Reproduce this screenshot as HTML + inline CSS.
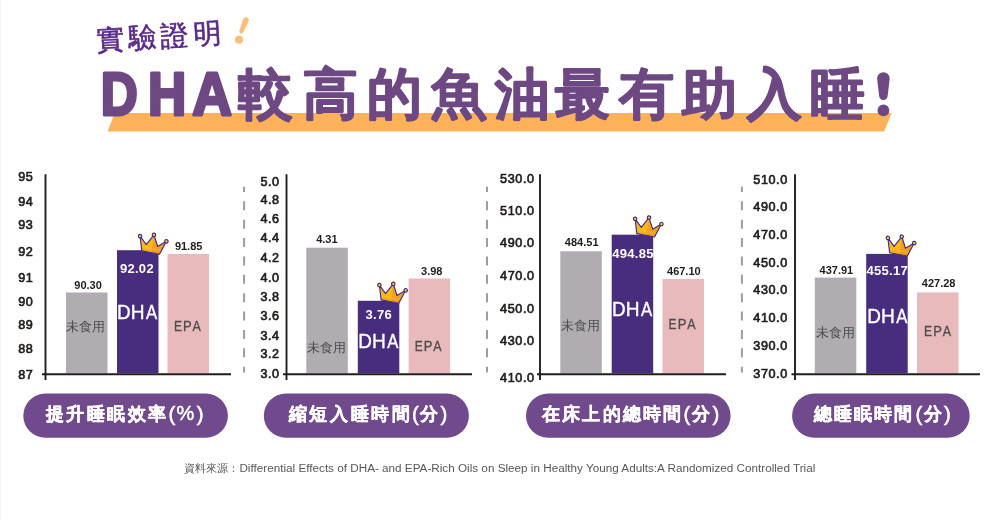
<!DOCTYPE html>
<html lang="zh-Hant"><head><meta charset="utf-8"><title>DHA</title>
<style>
html,body{margin:0;padding:0;background:#fff;}
body{width:1000px;height:520px;overflow:hidden;position:relative;font-family:"Liberation Sans",sans-serif;}
svg{position:absolute;left:0;top:0;display:block;will-change:transform;}
svg text{font-family:"Liberation Sans",sans-serif;}
</style></head><body>
<svg width="1000" height="520" viewBox="0 0 1000 520">
<defs>
<g id="crown">
 <path d="M0,0 L-4.4,-14.2 L3.2,-7 L9,-18 L14.8,-7.3 L22.4,-14 L18,0 Z" fill="#fcb814"/>
 <path d="M9,-18 L14.8,-7.3 L22.4,-14 L18,0 L9.8,0 Z" fill="#f5a01b"/>
 <path d="M-0.8,-3.6 L19.1,-3.6 L18,0 L0,0 Z" fill="#f9ad1c"/>
 <path d="M9.8,-3.6 L19.1,-3.6 L18,0 L9.8,0 Z" fill="#f49a1a"/>
 <path d="M-0.8,-3.6 L19.1,-3.6" stroke="#fdd060" stroke-width="0.6" opacity="0.6"/>
 <path d="M0,0 L-4.4,-14.2 L3.2,-7 L9,-18 L14.8,-7.3 L22.4,-14 L18,0 Z" fill="none" stroke="#3f2c8e" stroke-width="1.15" stroke-linejoin="round"/>
 <circle cx="-4.4" cy="-14.2" r="1.75" fill="#fdc62a" stroke="#3f2c8e" stroke-width="1.15"/>
 <circle cx="9" cy="-18" r="1.75" fill="#fdc62a" stroke="#3f2c8e" stroke-width="1.15"/>
 <circle cx="22.4" cy="-14" r="1.75" fill="#fdc62a" stroke="#3f2c8e" stroke-width="1.15"/>
</g>
</defs>
<rect x="0" y="0" width="1" height="520" fill="#f6f6f6"/>

<g id="title">
<path d="M114.6,113.1 L891.7,113.1 L884.1,131.5 L107.7,131.5 Z" fill="#fdb25a"/>
<g transform="rotate(-3.6 97 40)"><text x="96.3" y="50" font-size="28" font-weight="500" fill="#5a2a88" stroke="#5a2a88" stroke-width="0.6" stroke-linejoin="round" letter-spacing="4.3">實驗證明</text></g>
<path d="M243.2,18.95 A2.9,2.9 0 0 1 248.6,21.05 L243.55,32.1 A2.2,2.2 0 0 1 239.45,30.5 Z" fill="#fbbf7a"/>
<circle cx="239" cy="39.7" r="4" fill="#fbbf7a"/>
<text transform="translate(119.2,115.4) scale(0.84,1)" x="0" y="0" text-anchor="middle" font-size="61" font-weight="bold" fill="#6e4882" stroke="#6e4882" stroke-width="3.2" stroke-linejoin="round">D</text>
<text transform="translate(167.2,115.4) scale(0.87,1)" x="0" y="0" text-anchor="middle" font-size="61" font-weight="bold" fill="#6e4882" stroke="#6e4882" stroke-width="3.2" stroke-linejoin="round">H</text>
<text transform="translate(212.0,115.4) scale(0.9,1)" x="0" y="0" text-anchor="middle" font-size="61" font-weight="bold" fill="#6e4882" stroke="#6e4882" stroke-width="3.2" stroke-linejoin="round">A</text>
<text x="265.5" y="113" text-anchor="middle" font-size="54.5" font-weight="900" fill="#6e4882" stroke="#6e4882" stroke-width="1.5" stroke-linejoin="round">較</text>
<text x="330.6" y="113" text-anchor="middle" font-size="54.5" font-weight="900" fill="#6e4882" stroke="#6e4882" stroke-width="1.5" stroke-linejoin="round">高</text>
<text x="394.2" y="113" text-anchor="middle" font-size="54.5" font-weight="900" fill="#6e4882" stroke="#6e4882" stroke-width="1.5" stroke-linejoin="round">的</text>
<text x="458.6" y="113" text-anchor="middle" font-size="54.5" font-weight="900" fill="#6e4882" stroke="#6e4882" stroke-width="1.5" stroke-linejoin="round">魚</text>
<text x="522.9" y="113" text-anchor="middle" font-size="54.5" font-weight="900" fill="#6e4882" stroke="#6e4882" stroke-width="1.5" stroke-linejoin="round">油</text>
<text x="582.3" y="113" text-anchor="middle" font-size="54.5" font-weight="900" fill="#6e4882" stroke="#6e4882" stroke-width="1.5" stroke-linejoin="round">最</text>
<text x="646.2" y="113" text-anchor="middle" font-size="54.5" font-weight="900" fill="#6e4882" stroke="#6e4882" stroke-width="1.5" stroke-linejoin="round">有</text>
<text x="709.2" y="113" text-anchor="middle" font-size="54.5" font-weight="900" fill="#6e4882" stroke="#6e4882" stroke-width="1.5" stroke-linejoin="round">助</text>
<text x="774.0" y="113" text-anchor="middle" font-size="54.5" font-weight="900" fill="#6e4882" stroke="#6e4882" stroke-width="1.5" stroke-linejoin="round">入</text>
<text x="837.9" y="113" text-anchor="middle" font-size="54.5" font-weight="900" fill="#6e4882" stroke="#6e4882" stroke-width="1.5" stroke-linejoin="round">睡</text>
<path d="M877.1,78.5 A6.3,6.3 0 0 1 889.7,78.5 L887.7,95.6 A4.3,4.3 0 0 1 879.1,95.6 Z" fill="#6e4882"/>
<circle cx="883.4" cy="110.4" r="5.9" fill="#6e4882"/>
</g>
<line x1="244.1" y1="186.7" x2="244.1" y2="372.4" stroke="#9d9d9e" stroke-width="2" stroke-dasharray="9 9.38" stroke-dashoffset="3.78"/>
<line x1="487" y1="186.7" x2="487" y2="372.4" stroke="#9d9d9e" stroke-width="2" stroke-dasharray="9 9.38" stroke-dashoffset="3.78"/>
<line x1="741.9" y1="186.7" x2="741.9" y2="372.4" stroke="#9d9d9e" stroke-width="2" stroke-dasharray="9 9.38" stroke-dashoffset="3.78"/>
<rect x="66" y="292.5" width="41.5" height="80.8" fill="#b0acb2"/>
<rect x="117" y="250.2" width="41.5" height="123.1" fill="#482d7f"/>
<rect x="167.5" y="254" width="41.5" height="119.3" fill="#e9babb"/>
<line x1="45.5" y1="174.2" x2="45.5" y2="380" stroke="#221c1c" stroke-width="1.9"/>
<line x1="42" y1="374.2" x2="231" y2="374.2" stroke="#221c1c" stroke-width="2"/>
<text x="32.8" y="181.2" text-anchor="end" font-size="12.6" fill="#221c1c" stroke="#221c1c" stroke-width="0.65" letter-spacing="0.6" dx="0.6">95</text>
<text x="32.8" y="205.7" text-anchor="end" font-size="12.6" fill="#221c1c" stroke="#221c1c" stroke-width="0.65" letter-spacing="0.6" dx="0.6">94</text>
<text x="32.8" y="229.0" text-anchor="end" font-size="12.6" fill="#221c1c" stroke="#221c1c" stroke-width="0.65" letter-spacing="0.6" dx="0.6">93</text>
<text x="32.8" y="255.8" text-anchor="end" font-size="12.6" fill="#221c1c" stroke="#221c1c" stroke-width="0.65" letter-spacing="0.6" dx="0.6">92</text>
<text x="32.8" y="281.5" text-anchor="end" font-size="12.6" fill="#221c1c" stroke="#221c1c" stroke-width="0.65" letter-spacing="0.6" dx="0.6">91</text>
<text x="32.8" y="305.5" text-anchor="end" font-size="12.6" fill="#221c1c" stroke="#221c1c" stroke-width="0.65" letter-spacing="0.6" dx="0.6">90</text>
<text x="32.8" y="329.4" text-anchor="end" font-size="12.6" fill="#221c1c" stroke="#221c1c" stroke-width="0.65" letter-spacing="0.6" dx="0.6">89</text>
<text x="32.8" y="353.4" text-anchor="end" font-size="12.6" fill="#221c1c" stroke="#221c1c" stroke-width="0.65" letter-spacing="0.6" dx="0.6">88</text>
<text x="32.8" y="379.0" text-anchor="end" font-size="12.6" fill="#221c1c" stroke="#221c1c" stroke-width="0.65" letter-spacing="0.6" dx="0.6">87</text>
<text x="88.05" y="289.00" text-anchor="middle" font-size="11" font-weight="bold" fill="#221c1c">90.30</text>
<text x="188.65" y="250.25" text-anchor="middle" font-size="11" font-weight="bold" fill="#221c1c">91.85</text>
<text x="136.90" y="273.45" text-anchor="middle" font-size="13" font-weight="bold" fill="#fff" letter-spacing="0.3">92.02</text>
<text transform="translate(123.85,319.40) scale(0.97,1)" text-anchor="middle" font-size="19.5" fill="#fff" stroke="#fff" stroke-width="0.35">D</text>
<text transform="translate(137.75,319.40) scale(0.98,1)" text-anchor="middle" font-size="19.5" fill="#fff" stroke="#fff" stroke-width="0.35">H</text>
<text transform="translate(151.65,319.40) scale(0.86,1)" text-anchor="middle" font-size="19.5" fill="#fff" stroke="#fff" stroke-width="0.35">A</text>
<text transform="translate(177.90,330.60) scale(0.86,1)" text-anchor="middle" font-size="14" fill="#4d4d4d" stroke="#4d4d4d" stroke-width="0.3">E</text>
<text transform="translate(187.40,330.60) scale(0.93,1)" text-anchor="middle" font-size="14" fill="#4d4d4d" stroke="#4d4d4d" stroke-width="0.3">P</text>
<text transform="translate(196.65,330.60) scale(0.89,1)" text-anchor="middle" font-size="14" fill="#4d4d4d" stroke="#4d4d4d" stroke-width="0.3">A</text>
<text x="85.65" y="331.45" text-anchor="middle" font-size="13.4" fill="#4d4d4d">未食用</text>
<use href="#crown" transform="translate(141.8,250.9) rotate(10.7)"/>
<rect x="306.3" y="247.7" width="41.5" height="125.6" fill="#b0acb2"/>
<rect x="357.8" y="300.8" width="41.5" height="72.5" fill="#482d7f"/>
<rect x="408.6" y="278.5" width="41.5" height="94.8" fill="#e9babb"/>
<line x1="286.5" y1="174.2" x2="286.5" y2="380" stroke="#221c1c" stroke-width="1.9"/>
<line x1="283" y1="374.2" x2="472" y2="374.2" stroke="#221c1c" stroke-width="2"/>
<text x="279.1" y="186.0" text-anchor="end" font-size="12.6" fill="#221c1c" stroke="#221c1c" stroke-width="0.65" letter-spacing="0.6" dx="0.6">5.0</text>
<text x="279.1" y="204.4" text-anchor="end" font-size="12.6" fill="#221c1c" stroke="#221c1c" stroke-width="0.65" letter-spacing="0.6" dx="0.6">4.8</text>
<text x="279.1" y="223.4" text-anchor="end" font-size="12.6" fill="#221c1c" stroke="#221c1c" stroke-width="0.65" letter-spacing="0.6" dx="0.6">4.6</text>
<text x="279.1" y="242.4" text-anchor="end" font-size="12.6" fill="#221c1c" stroke="#221c1c" stroke-width="0.65" letter-spacing="0.6" dx="0.6">4.4</text>
<text x="279.1" y="261.6" text-anchor="end" font-size="12.6" fill="#221c1c" stroke="#221c1c" stroke-width="0.65" letter-spacing="0.6" dx="0.6">4.2</text>
<text x="279.1" y="281.5" text-anchor="end" font-size="12.6" fill="#221c1c" stroke="#221c1c" stroke-width="0.65" letter-spacing="0.6" dx="0.6">4.0</text>
<text x="279.1" y="301.0" text-anchor="end" font-size="12.6" fill="#221c1c" stroke="#221c1c" stroke-width="0.65" letter-spacing="0.6" dx="0.6">3.8</text>
<text x="279.1" y="319.8" text-anchor="end" font-size="12.6" fill="#221c1c" stroke="#221c1c" stroke-width="0.65" letter-spacing="0.6" dx="0.6">3.6</text>
<text x="279.1" y="339.5" text-anchor="end" font-size="12.6" fill="#221c1c" stroke="#221c1c" stroke-width="0.65" letter-spacing="0.6" dx="0.6">3.4</text>
<text x="279.1" y="358.2" text-anchor="end" font-size="12.6" fill="#221c1c" stroke="#221c1c" stroke-width="0.65" letter-spacing="0.6" dx="0.6">3.2</text>
<text x="279.1" y="377.8" text-anchor="end" font-size="12.6" fill="#221c1c" stroke="#221c1c" stroke-width="0.65" letter-spacing="0.6" dx="0.6">3.0</text>
<text x="326.85" y="243.00" text-anchor="middle" font-size="11" font-weight="bold" fill="#221c1c">4.31</text>
<text x="431.75" y="274.50" text-anchor="middle" font-size="11" font-weight="bold" fill="#221c1c">3.98</text>
<text x="378.70" y="319.45" text-anchor="middle" font-size="13" font-weight="bold" fill="#fff" letter-spacing="0.3">3.76</text>
<text transform="translate(364.95,347.50) scale(0.97,1)" text-anchor="middle" font-size="19.5" fill="#fff" stroke="#fff" stroke-width="0.35">D</text>
<text transform="translate(378.85,347.50) scale(0.98,1)" text-anchor="middle" font-size="19.5" fill="#fff" stroke="#fff" stroke-width="0.35">H</text>
<text transform="translate(392.75,347.50) scale(0.86,1)" text-anchor="middle" font-size="19.5" fill="#fff" stroke="#fff" stroke-width="0.35">A</text>
<text transform="translate(418.65,351.45) scale(0.86,1)" text-anchor="middle" font-size="14" fill="#4d4d4d" stroke="#4d4d4d" stroke-width="0.3">E</text>
<text transform="translate(428.15,351.45) scale(0.93,1)" text-anchor="middle" font-size="14" fill="#4d4d4d" stroke="#4d4d4d" stroke-width="0.3">P</text>
<text transform="translate(437.40,351.45) scale(0.89,1)" text-anchor="middle" font-size="14" fill="#4d4d4d" stroke="#4d4d4d" stroke-width="0.3">A</text>
<text x="326.60" y="352.25" text-anchor="middle" font-size="13.4" fill="#4d4d4d">未食用</text>
<use href="#crown" transform="translate(381.1,299.9) rotate(10.7)"/>
<rect x="560.3" y="251.3" width="41.5" height="122.0" fill="#b0acb2"/>
<rect x="611.7" y="234.7" width="41.5" height="138.6" fill="#482d7f"/>
<rect x="662.5" y="279" width="41.5" height="94.3" fill="#e9babb"/>
<line x1="540" y1="174.2" x2="540" y2="380" stroke="#221c1c" stroke-width="1.9"/>
<line x1="537" y1="374.2" x2="726" y2="374.2" stroke="#221c1c" stroke-width="2"/>
<text x="534" y="183.1" text-anchor="end" font-size="12.6" fill="#221c1c" stroke="#221c1c" stroke-width="0.65" letter-spacing="0.6" dx="0.6">530.0</text>
<text x="534" y="215.0" text-anchor="end" font-size="12.6" fill="#221c1c" stroke="#221c1c" stroke-width="0.65" letter-spacing="0.6" dx="0.6">510.0</text>
<text x="534" y="246.8" text-anchor="end" font-size="12.6" fill="#221c1c" stroke="#221c1c" stroke-width="0.65" letter-spacing="0.6" dx="0.6">490.0</text>
<text x="534" y="279.9" text-anchor="end" font-size="12.6" fill="#221c1c" stroke="#221c1c" stroke-width="0.65" letter-spacing="0.6" dx="0.6">470.0</text>
<text x="534" y="312.6" text-anchor="end" font-size="12.6" fill="#221c1c" stroke="#221c1c" stroke-width="0.65" letter-spacing="0.6" dx="0.6">450.0</text>
<text x="534" y="345.4" text-anchor="end" font-size="12.6" fill="#221c1c" stroke="#221c1c" stroke-width="0.65" letter-spacing="0.6" dx="0.6">430.0</text>
<text x="534" y="382.0" text-anchor="end" font-size="12.6" fill="#221c1c" stroke="#221c1c" stroke-width="0.65" letter-spacing="0.6" dx="0.6">410.0</text>
<text x="581.70" y="246.35" text-anchor="middle" font-size="11" font-weight="bold" fill="#221c1c">484.51</text>
<text x="683.85" y="274.60" text-anchor="middle" font-size="11" font-weight="bold" fill="#221c1c">467.10</text>
<text x="633.00" y="257.65" text-anchor="middle" font-size="13" font-weight="bold" fill="#fff" letter-spacing="0.3">494.85</text>
<text transform="translate(618.70,316.05) scale(0.97,1)" text-anchor="middle" font-size="19.5" fill="#fff" stroke="#fff" stroke-width="0.35">D</text>
<text transform="translate(632.60,316.05) scale(0.98,1)" text-anchor="middle" font-size="19.5" fill="#fff" stroke="#fff" stroke-width="0.35">H</text>
<text transform="translate(646.50,316.05) scale(0.86,1)" text-anchor="middle" font-size="19.5" fill="#fff" stroke="#fff" stroke-width="0.35">A</text>
<text transform="translate(672.55,329.15) scale(0.86,1)" text-anchor="middle" font-size="14" fill="#4d4d4d" stroke="#4d4d4d" stroke-width="0.3">E</text>
<text transform="translate(682.05,329.15) scale(0.93,1)" text-anchor="middle" font-size="14" fill="#4d4d4d" stroke="#4d4d4d" stroke-width="0.3">P</text>
<text transform="translate(691.30,329.15) scale(0.89,1)" text-anchor="middle" font-size="14" fill="#4d4d4d" stroke="#4d4d4d" stroke-width="0.3">A</text>
<text x="580.30" y="330.00" text-anchor="middle" font-size="13.4" fill="#4d4d4d">未食用</text>
<use href="#crown" transform="translate(636.8,233.6) rotate(10.7)"/>
<rect x="814.8" y="277.6" width="41.5" height="95.7" fill="#b0acb2"/>
<rect x="866.2" y="253.9" width="41.5" height="119.4" fill="#482d7f"/>
<rect x="917" y="292.4" width="41.5" height="80.9" fill="#e9babb"/>
<line x1="795" y1="174.2" x2="795" y2="380" stroke="#221c1c" stroke-width="1.9"/>
<line x1="791.5" y1="374.2" x2="980" y2="374.2" stroke="#221c1c" stroke-width="2"/>
<text x="787.2" y="183.5" text-anchor="end" font-size="12.6" fill="#221c1c" stroke="#221c1c" stroke-width="0.65" letter-spacing="0.6" dx="0.6">510.0</text>
<text x="787.2" y="211.1" text-anchor="end" font-size="12.6" fill="#221c1c" stroke="#221c1c" stroke-width="0.65" letter-spacing="0.6" dx="0.6">490.0</text>
<text x="787.2" y="238.9" text-anchor="end" font-size="12.6" fill="#221c1c" stroke="#221c1c" stroke-width="0.65" letter-spacing="0.6" dx="0.6">470.0</text>
<text x="787.2" y="266.6" text-anchor="end" font-size="12.6" fill="#221c1c" stroke="#221c1c" stroke-width="0.65" letter-spacing="0.6" dx="0.6">450.0</text>
<text x="787.2" y="294.4" text-anchor="end" font-size="12.6" fill="#221c1c" stroke="#221c1c" stroke-width="0.65" letter-spacing="0.6" dx="0.6">430.0</text>
<text x="787.2" y="322.1" text-anchor="end" font-size="12.6" fill="#221c1c" stroke="#221c1c" stroke-width="0.65" letter-spacing="0.6" dx="0.6">410.0</text>
<text x="787.2" y="349.7" text-anchor="end" font-size="12.6" fill="#221c1c" stroke="#221c1c" stroke-width="0.65" letter-spacing="0.6" dx="0.6">390.0</text>
<text x="787.2" y="377.6" text-anchor="end" font-size="12.6" fill="#221c1c" stroke="#221c1c" stroke-width="0.65" letter-spacing="0.6" dx="0.6">370.0</text>
<text x="836.40" y="274.40" text-anchor="middle" font-size="11" font-weight="bold" fill="#221c1c">437.91</text>
<text x="938.65" y="287.20" text-anchor="middle" font-size="11" font-weight="bold" fill="#221c1c">427.28</text>
<text x="887.25" y="275.25" text-anchor="middle" font-size="13" font-weight="bold" fill="#fff" letter-spacing="0.3">455.17</text>
<text transform="translate(874.05,323.15) scale(0.97,1)" text-anchor="middle" font-size="19.5" fill="#fff" stroke="#fff" stroke-width="0.35">D</text>
<text transform="translate(887.95,323.15) scale(0.98,1)" text-anchor="middle" font-size="19.5" fill="#fff" stroke="#fff" stroke-width="0.35">H</text>
<text transform="translate(901.85,323.15) scale(0.86,1)" text-anchor="middle" font-size="19.5" fill="#fff" stroke="#fff" stroke-width="0.35">A</text>
<text transform="translate(928.05,336.40) scale(0.86,1)" text-anchor="middle" font-size="14" fill="#4d4d4d" stroke="#4d4d4d" stroke-width="0.3">E</text>
<text transform="translate(937.55,336.40) scale(0.93,1)" text-anchor="middle" font-size="14" fill="#4d4d4d" stroke="#4d4d4d" stroke-width="0.3">P</text>
<text transform="translate(946.80,336.40) scale(0.89,1)" text-anchor="middle" font-size="14" fill="#4d4d4d" stroke="#4d4d4d" stroke-width="0.3">A</text>
<text x="835.70" y="337.15" text-anchor="middle" font-size="13.4" fill="#4d4d4d">未食用</text>
<use href="#crown" transform="translate(889.6,252.7) rotate(10.7)"/>
<rect x="23.3" y="393.6" width="204.6" height="44.2" rx="22.1" fill="#704a8c"/>
<text x="46.1" y="419.8" font-size="17.6" font-weight="bold" fill="#fff" stroke="#fff" stroke-width="0.45" stroke-linejoin="round" letter-spacing="2.4">提升睡眠效率</text>
<text x="171.8" y="421.2" text-anchor="middle" font-size="20.5" fill="#fff" stroke="#fff" stroke-width="0.55">(</text>
<text x="185.4" y="420.2" text-anchor="middle" font-size="20" fill="#fff" stroke="#fff" stroke-width="0.5">%</text>
<text x="200.2" y="421.2" text-anchor="middle" font-size="20.5" fill="#fff" stroke="#fff" stroke-width="0.55">)</text>
<rect x="263.8" y="393.6" width="205.1" height="44.2" rx="22.1" fill="#704a8c"/>
<text x="288.9" y="419.8" font-size="17.6" font-weight="bold" fill="#fff" stroke="#fff" stroke-width="0.45" stroke-linejoin="round" letter-spacing="2.6">縮短入睡時間</text>
<text x="415.4" y="421.2" text-anchor="middle" font-size="20.5" fill="#fff" stroke="#fff" stroke-width="0.55">(</text>
<text x="429.2" y="419.8" text-anchor="middle" font-size="17.6" font-weight="bold" fill="#fff" stroke="#fff" stroke-width="0.45" stroke-linejoin="round">分</text>
<text x="444.0" y="421.2" text-anchor="middle" font-size="20.5" fill="#fff" stroke="#fff" stroke-width="0.55">)</text>
<rect x="526" y="393.6" width="204.6" height="44.2" rx="22.1" fill="#704a8c"/>
<text x="542.4" y="419.8" font-size="17.6" font-weight="bold" fill="#fff" stroke="#fff" stroke-width="0.45" stroke-linejoin="round" letter-spacing="2.05">在床上的總時間</text>
<text x="686.8" y="421.2" text-anchor="middle" font-size="20.5" fill="#fff" stroke="#fff" stroke-width="0.55">(</text>
<text x="700.8" y="419.8" text-anchor="middle" font-size="17.6" font-weight="bold" fill="#fff" stroke="#fff" stroke-width="0.45" stroke-linejoin="round">分</text>
<text x="715.8" y="421.2" text-anchor="middle" font-size="20.5" fill="#fff" stroke="#fff" stroke-width="0.55">)</text>
<rect x="792.1" y="393.6" width="177.6" height="44.2" rx="22.1" fill="#704a8c"/>
<text x="814.4" y="419.8" font-size="17.6" font-weight="bold" fill="#fff" stroke="#fff" stroke-width="0.45" stroke-linejoin="round" letter-spacing="1.95">總睡眠時間</text>
<text x="919.0" y="421.2" text-anchor="middle" font-size="20.5" fill="#fff" stroke="#fff" stroke-width="0.55">(</text>
<text x="933.2" y="419.8" text-anchor="middle" font-size="17.6" font-weight="bold" fill="#fff" stroke="#fff" stroke-width="0.45" stroke-linejoin="round">分</text>
<text x="947.4" y="421.2" text-anchor="middle" font-size="20.5" fill="#fff" stroke="#fff" stroke-width="0.55">)</text>
<text x="184.2" y="471.5" font-size="11" fill="#595757">資料來源：</text>
<text x="239.4" y="471.5" font-size="11.7" fill="#595757" textLength="575.9" lengthAdjust="spacing">Differential Effects of DHA- and EPA-Rich Oils on Sleep in Healthy Young Adults:A Randomized Controlled Trial</text>
</svg></body></html>
